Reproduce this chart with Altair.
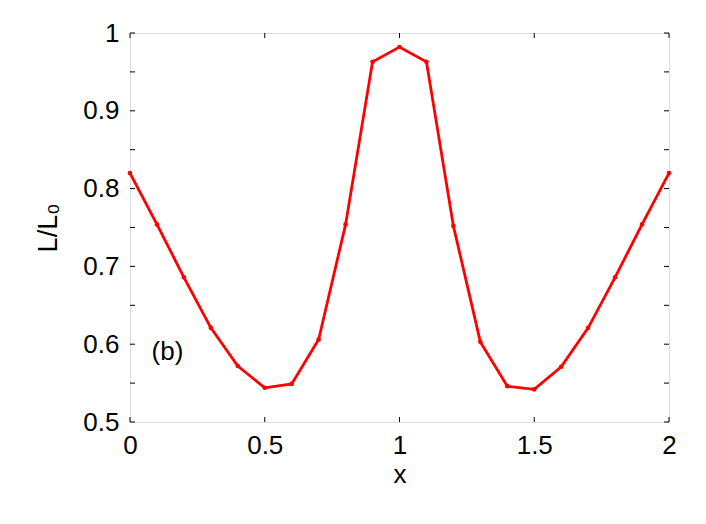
import altair as alt
import pandas as pd

x_vals = [0.0, 0.1, 0.2, 0.3, 0.4, 0.5, 0.6, 0.7, 0.8, 0.9, 1.0,
          1.1, 1.2, 1.3, 1.4, 1.5, 1.6, 1.7, 1.8, 1.9, 2.0]
y_vals = [0.820, 0.754, 0.686, 0.621, 0.572, 0.544, 0.549, 0.606, 0.754, 0.963, 0.982,
          0.963, 0.752, 0.603, 0.546, 0.542, 0.571, 0.621, 0.686, 0.754, 0.820]
x_ticks = [0.0, 0.5, 1.0, 1.5, 2.0]
y_ticks = [0.5, 0.55, 0.6, 0.65, 0.7, 0.75, 0.8, 0.85, 0.9, 0.95, 1.0]
y_labels = [0.5, 0.6, 0.7, 0.8, 0.9, 1.0]
annot_text = ["(b)"]
annot_x = [0.08]
annot_y = [0.59]

W, H = 539, 389
FONT = "Liberation Sans"
FS = 26
TICK = 5

df = pd.DataFrame({"x": x_vals, "y": y_vals})
xt = pd.DataFrame({"t": x_ticks})
yt = pd.DataFrame({"t": y_ticks})
an = pd.DataFrame({"label": annot_text, "x": annot_x, "y": annot_y})

xscale = alt.Scale(domain=[0, 2], nice=False)
yscale = alt.Scale(domain=[0.5, 1.0], nice=False)

line = alt.Chart(df).mark_line(
    color="#ff0000", strokeWidth=2.8,
    point=alt.OverlayMarkDef(filled=True, size=22, color="#ff0000"),
).encode(
    x=alt.X("x:Q", scale=xscale,
            axis=alt.Axis(values=x_ticks, ticks=False, domain=False, grid=False,
                          labelFontSize=FS, labelFont=FONT, labelColor="black",
                          labelPadding=10, labelFlush=False, format="~g",
                          title="x", titleFont=FONT, titleFontSize=FS,
                          titleFontWeight="normal", titleColor="black",
                          titlePadding=3)),
    y=alt.Y("y:Q", scale=yscale,
            axis=alt.Axis(values=y_labels, ticks=False, domain=False, grid=False,
                          labelFontSize=FS, labelFont=FONT, labelColor="black",
                          labelPadding=11, labelFlush=False, format="~g",
                          title="L/L₀", titleFont=FONT, titleFontSize=27,
                          titleFontWeight="normal", titleColor="black",
                          titlePadding=20)),
)

ytick_left = alt.Chart(yt).mark_rule(color="black", strokeWidth=1).encode(
    y=alt.Y("t:Q", scale=yscale), x=alt.value(0), x2=alt.value(TICK))
ytick_right = alt.Chart(yt).mark_rule(color="black", strokeWidth=1).encode(
    y=alt.Y("t:Q", scale=yscale), x=alt.value(W - TICK), x2=alt.value(W))
xtick_bottom = alt.Chart(xt).mark_rule(color="black", strokeWidth=1).encode(
    x=alt.X("t:Q", scale=xscale), y=alt.value(H - TICK), y2=alt.value(H))
xtick_top = alt.Chart(xt).mark_rule(color="black", strokeWidth=1).encode(
    x=alt.X("t:Q", scale=xscale), y=alt.value(0), y2=alt.value(TICK))

label = alt.Chart(an).mark_text(
    font=FONT, fontSize=FS, align="left", baseline="middle", color="black"
).encode(x=alt.X("x:Q", scale=xscale), y=alt.Y("y:Q", scale=yscale), text="label:N")

chart = alt.layer(
    ytick_left, ytick_right, xtick_bottom, xtick_top, line, label
).properties(
    width=W, height=H,
    autosize=alt.AutoSizeParams(type="none"),
    padding={"left": 122, "top": 25, "right": 29, "bottom": 94},
).configure_view(
    stroke="black", strokeWidth=1.3
).configure(background="white")

chart.save("out.html", embed_options={"renderer": "svg", "actions": False})
